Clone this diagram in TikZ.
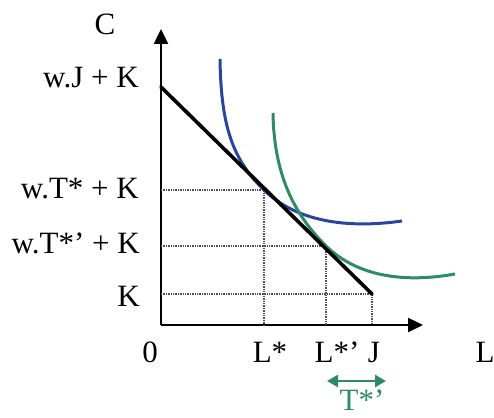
\documentclass[tikz,border=0pt]{standalone}
\usepackage{fontspec}
\setmainfont{Liberation Serif}
\usetikzlibrary{arrows.meta}
\definecolor{icblue}{RGB}{40,70,160}
\definecolor{icgreen}{RGB}{45,140,100}
\definecolor{guide}{RGB}{80,80,80}
\tikzset{
  lab/.style={font=\fontsize{31}{33}\selectfont, inner sep=0pt},
  axis/.style={line width=2.4pt, -{Triangle[length=15pt,width=14pt]}},
  guideline/.style={guide, line width=1.1pt, dash pattern=on 1.3pt off 1.1pt},
  budget/.style={line width=3.6pt, line cap=round},
  ic/.style={line width=3pt},
}
\begin{document}
\begin{tikzpicture}[x=1pt,y=-1pt]
\useasboundingbox (0,0) rectangle (494,417);
% axes
\coordinate (O) at (161,325);
\coordinate (ytop) at (161,29);
\coordinate (xend) at (423,325);
\draw[axis] (O) -- (ytop);
\draw[axis] (O) -- (xend);
% key points
\coordinate (A) at (161,87);
\coordinate (P1) at (264,190);
\coordinate (P2) at (326,246);
\coordinate (B) at (372,294);
\coordinate (y1) at (161,190);
\coordinate (y2) at (161,246);
\coordinate (y3) at (161,294);
\coordinate (x1) at (264,325);
\coordinate (x2) at (326,325);
\coordinate (x3) at (372,325);
% guides
\draw[guideline] (y1) -- (P1) -- (x1);
\draw[guideline] (y2) -- (P2) -- (x2);
\draw[guideline] (y3) -- (B) -- (x3);
% indifference curves
\draw[ic, icblue] (220,59) .. controls (221,125) and (232,159) .. (P1)
  .. controls (296,221) and (345,229) .. (402,221);
\draw[ic, icgreen] (273,113) .. controls (274,180) and (298,218) .. (P2)
  .. controls (358,277) and (405,283) .. (455,274);
% budget line
\draw[budget] (A) -- (B);
% labels
\node[lab, anchor=base] (C) at (105,35) {C};
\node[lab, anchor=base east] (lwj) at (139,88) {w.J + K};
\node[lab, anchor=base east] (lwt) at (139,198) {w.T* + K};
\node[lab, anchor=base east] (lwtp) at (140,253) {w.T*’ + K};
\node[lab, anchor=base east] (lk) at (140,306) {K};
\node[lab, anchor=base] (l0) at (150,362) {0};
\node[lab, anchor=base] (lls) at (270,362) {L*};
\node[lab, anchor=base] (llsp) at (337,362) {L*’};
\node[lab, anchor=base] (lj) at (374,362) {J};
\node[lab, anchor=base] (ll) at (485,362) {L};
\coordinate (ga) at (327,381);
\coordinate (gb) at (386,381);
\draw[icgreen, line width=2.6pt, {Triangle[length=11pt,width=12pt]}-{Triangle[length=11pt,width=12pt]}] (ga) -- (gb);
\node[lab, anchor=base, text=icgreen] (lt) at (362,410) {T*’};
\end{tikzpicture}
\end{document}
